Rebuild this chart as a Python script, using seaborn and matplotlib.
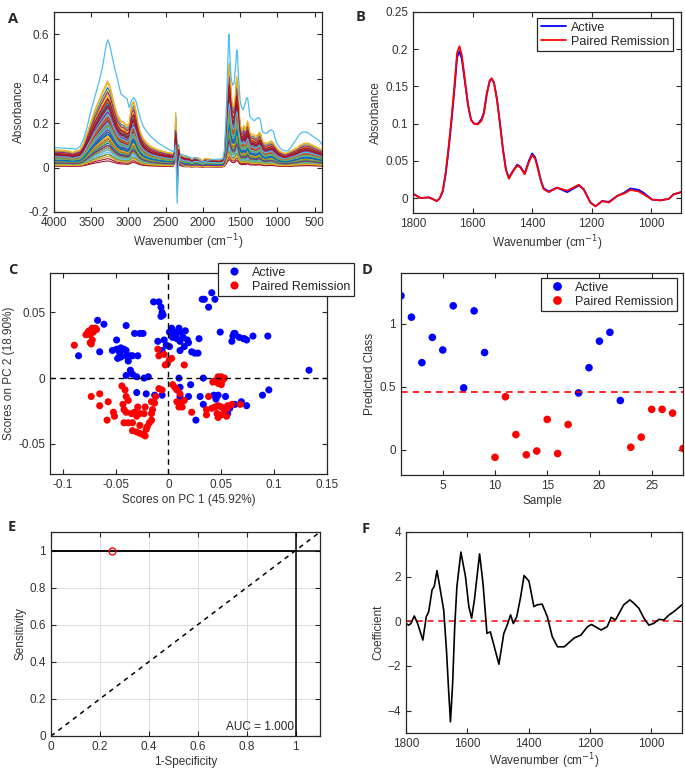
import numpy as np
import pandas as pd
import matplotlib
matplotlib.use("Agg")
import matplotlib.pyplot as plt
from matplotlib.ticker import FuncFormatter
import seaborn as sns

# ---------------- A: all spectra ----------------
wn_a = [4000, 3900, 3800, 3750, 3700, 3650, 3600, 3550, 3500, 3450,
        3400, 3350, 3300, 3280, 3250, 3200, 3150, 3100, 3060, 3020,
        2990, 2960, 2930, 2900, 2870, 2840, 2800, 2750, 2700, 2600,
        2500, 2420, 2400, 2380, 2365, 2355, 2345, 2335, 2325, 2310,
        2250, 2200, 2170, 2150, 2120, 2080, 2040, 2000, 1980, 1950,
        1900, 1850, 1800, 1760, 1730, 1710, 1690, 1670, 1655, 1645,
        1630, 1610, 1590, 1570, 1555, 1545, 1530, 1515, 1500, 1480,
        1460, 1450, 1430, 1415, 1400, 1390, 1370, 1350, 1320, 1290,
        1260, 1240, 1220, 1200, 1170, 1140, 1110, 1080, 1050, 1020,
        1000, 970, 940, 910, 880, 850, 820, 790, 760, 730,
        700, 670, 640, 610, 580, 550, 520, 490, 460, 430, 400]
# upper edge of the main bundle
top_a = [0.080, 0.078, 0.075, 0.068, 0.075, 0.080, 0.110, 0.160, 0.210, 0.260,
         0.300, 0.340, 0.375, 0.390, 0.370, 0.300, 0.240, 0.210, 0.205, 0.190,
         0.200, 0.280, 0.300, 0.260, 0.200, 0.160, 0.130, 0.110, 0.095, 0.080,
         0.070, 0.065, 0.062, 0.060, 0.060, 0.060, 0.060, 0.058, 0.056, 0.055,
         0.050, 0.048, 0.045, 0.035, 0.045, 0.045, 0.040, 0.030, 0.040, 0.040,
         0.038, 0.036, 0.035, 0.035, 0.040, 0.070, 0.180, 0.330, 0.440, 0.470,
         0.400, 0.300, 0.280, 0.300, 0.380, 0.410, 0.370, 0.270, 0.200, 0.170,
         0.180, 0.190, 0.170, 0.190, 0.210, 0.200, 0.160, 0.150, 0.150, 0.140,
         0.150, 0.160, 0.150, 0.120, 0.110, 0.110, 0.115, 0.120, 0.110, 0.095,
         0.085, 0.075, 0.070, 0.065, 0.065, 0.070, 0.075, 0.080, 0.085, 0.090,
         0.100, 0.105, 0.110, 0.110, 0.110, 0.105, 0.100, 0.095, 0.090, 0.085, 0.080]
# CO2 artefact profile
co2_profile = {2380: 0.25, 2365: 1.0, 2355: 0.7, 2345: -0.55, 2335: -0.25, 2325: 0.35, 2310: 0.08}
# per spectrum: amide A height and CO2 artefact size
sample_amp = [0.21, 0.08, 0.33, 0.15, 0.27, 0.05, 0.19, 0.36, 0.12, 0.24,
              0.10, 0.29, 0.17, 0.06, 0.22, 0.31, 0.14, 0.09, 0.26, 0.20,
              0.04, 0.18, 0.30, 0.11, 0.25, 0.13, 0.07, 0.23, 0.28, 0.16,
              0.39, 0.19, 0.12, 0.27, 0.03, 0.22, 0.10, 0.32, 0.15, 0.24,
              0.08, 0.20, 0.29, 0.13, 0.35, 0.17, 0.06, 0.26, 0.21, 0.11,
              0.30, 0.14, 0.25, 0.09, 0.18, 0.28, 0.16, 0.23, 0.05, 0.34,
              0.12, 0.20, 0.27, 0.15, 0.22, 0.38, 0.10, 0.19, 0.24, 0.31]
sample_co2 = [0.04, 0.09, 0.02, 0.13, 0.06, 0.18, 0.03, 0.10, 0.05, 0.15,
              0.03, 0.08, 0.11, 0.05, 0.20, 0.07, 0.01, 0.09, 0.14, 0.04,
              0.06, 0.11, 0.03, 0.16, 0.05, 0.08, 0.03, 0.12, 0.07, 0.02,
              0.10, 0.05, 0.17, 0.06, 0.08, 0.04, 0.13, 0.03, 0.09, 0.05,
              0.14, 0.03, 0.07, 0.11, 0.05, 0.08, 0.19, 0.02, 0.06, 0.11,
              0.04, 0.08, 0.05, 0.13, 0.03, 0.09, 0.05, 0.07, 0.24, 0.03,
              0.10, 0.06, 0.12, 0.04, 0.08, 0.05, 0.15, 0.03, 0.08, 0.10]
# the single high outlier spectrum (light blue)
out_wn = [4000, 3900, 3800, 3700, 3650, 3600, 3550, 3500, 3450, 3400,
          3350, 3300, 3280, 3250, 3200, 3150, 3100, 3060, 3020, 2990,
          2960, 2930, 2900, 2870, 2840, 2800, 2750, 2700, 2600, 2500,
          2420, 2380, 2365, 2345, 2330, 2300, 2250, 2200, 2150, 2100,
          2000, 1900, 1800, 1730, 1710, 1690, 1670, 1655, 1648, 1635,
          1620, 1600, 1580, 1560, 1545, 1535, 1520, 1500, 1480, 1460,
          1440, 1415, 1400, 1385, 1370, 1340, 1310, 1280, 1250, 1230,
          1200, 1170, 1140, 1110, 1080, 1050, 1020, 1000, 970, 940,
          900, 860, 820, 780, 740, 700, 660, 620, 580, 540, 500, 450, 400]
out_abs = [0.090, 0.088, 0.086, 0.083, 0.095, 0.130, 0.190, 0.260, 0.320, 0.380,
           0.450, 0.550, 0.575, 0.550, 0.470, 0.400, 0.330, 0.320, 0.310, 0.270,
           0.300, 0.315, 0.300, 0.260, 0.220, 0.185, 0.160, 0.140, 0.110, 0.090,
           0.075, 0.070, 0.100, -0.160, 0.010, 0.060, 0.055, 0.050, 0.040, 0.045,
           0.025, 0.035, 0.037, 0.040, 0.080, 0.220, 0.420, 0.580, 0.600, 0.480,
           0.400, 0.370, 0.380, 0.460, 0.530, 0.500, 0.400, 0.300, 0.270, 0.260,
           0.280, 0.310, 0.315, 0.280, 0.230, 0.220, 0.210, 0.220, 0.225, 0.215,
           0.160, 0.155, 0.155, 0.165, 0.170, 0.160, 0.120, 0.105, 0.090, 0.080,
           0.075, 0.075, 0.090, 0.110, 0.130, 0.150, 0.160, 0.160, 0.155, 0.145,
           0.135, 0.125, 0.105]

# ---------------- B: mean spectra ----------------
wn_b = [1800, 1775, 1747, 1735, 1720, 1710, 1700, 1690, 1680, 1670,
        1660, 1652, 1644, 1636, 1626, 1615, 1605, 1595, 1582, 1570,
        1562, 1552, 1542, 1536, 1528, 1518, 1508, 1498, 1488, 1478,
        1467, 1450, 1439, 1425, 1411, 1400, 1390, 1383, 1370, 1361,
        1344, 1316, 1282, 1243, 1227, 1204, 1187, 1165, 1142, 1114,
        1092, 1070, 1042, 1025, 997, 969, 941, 925, 900]
active_b = [0.006, 0.000, 0.001, -0.001, -0.004, 0.000, 0.009, 0.033, 0.067, 0.106,
            0.150, 0.189, 0.197, 0.187, 0.157, 0.124, 0.105, 0.100, 0.100, 0.106,
            0.115, 0.141, 0.158, 0.160, 0.155, 0.133, 0.101, 0.066, 0.039, 0.027,
            0.035, 0.045, 0.042, 0.033, 0.050, 0.060, 0.055, 0.045, 0.023, 0.013,
            0.009, 0.014, 0.008, 0.017, 0.012, -0.006, -0.011, -0.004, -0.005, 0.003,
            0.007, 0.013, 0.011, 0.007, -0.002, -0.003, -0.001, 0.005, 0.008]
remission_b = [0.006, 0.000, 0.001, -0.001, -0.004, 0.000, 0.010, 0.035, 0.070, 0.110,
               0.155, 0.195, 0.204, 0.192, 0.160, 0.125, 0.105, 0.100, 0.099, 0.104,
               0.113, 0.140, 0.158, 0.161, 0.155, 0.132, 0.100, 0.065, 0.038, 0.026,
               0.034, 0.044, 0.041, 0.032, 0.048, 0.058, 0.053, 0.043, 0.022, 0.012,
               0.008, 0.014, 0.010, 0.018, 0.012, -0.006, -0.011, -0.004, -0.006, 0.003,
               0.006, 0.011, 0.009, 0.005, -0.002, -0.003, -0.001, 0.005, 0.008]

# ---------------- C: PCA scores ----------------
active_pc1 = [-0.014, -0.009, -0.007, -0.006, -0.007, -0.005,
              0.032, 0.034, 0.041, 0.044, 0.038,
              0.049, 0.061, 0.062, 0.063, 0.060, 0.067, 0.071, 0.074, 0.080, 0.094, 0.072,
              0.133,
              -0.067, -0.061, -0.085, -0.065, -0.049, -0.040, -0.032, -0.027, -0.024,
              -0.053, -0.049, -0.045, -0.042, -0.040, -0.046, -0.048, -0.045, -0.040,
              -0.036, -0.034, -0.029, -0.038,
              -0.040, -0.036, -0.034, -0.030, -0.023, -0.019,
              0.003, 0.006, 0.010, 0.004, 0.008, 0.011, 0.016, 0.018, 0.019, 0.015,
              0.011, 0.022, 0.025, 0.028, 0.029, -0.004, -0.002, 0.001, -0.006, -0.010,
              0.001, 0.007, 0.014, 0.011,
              0.010, 0.021, 0.033, -0.030, -0.021, -0.013, -0.006, 0.011, 0.011, 0.019,
              0.030, 0.033, 0.026, 0.043, 0.047, 0.054, 0.045, 0.063, 0.069, 0.074,
              0.089, 0.095, 0.058, 0.056]
active_pc2 = [0.058, 0.058, 0.054, 0.050, 0.047, 0.048,
              0.060, 0.060, 0.065, 0.060, 0.054,
              0.035, 0.032, 0.034, 0.034, 0.028, 0.031, 0.030, 0.029, 0.032, 0.032, 0.030,
              0.006,
              0.044, 0.041, 0.017, 0.020, 0.029, 0.040, 0.034, 0.034, 0.034,
              0.021, 0.022, 0.023, 0.022, 0.021, 0.019, 0.015, 0.016, 0.017,
              0.017, 0.017, 0.017, 0.013,
              0.002, 0.006, 0.003, 0.001, 0.000, 0.001,
              0.038, 0.035, 0.038, 0.031, 0.030, 0.028, 0.036, 0.029, 0.027, 0.024,
              0.021, 0.020, 0.019, 0.019, 0.030, 0.029, 0.025, 0.024, 0.021, 0.028,
              0.035, 0.033, 0.031, 0.035,
              0.000, -0.005, 0.000, -0.011, -0.012, -0.013, -0.013, -0.007, -0.014, -0.014,
              -0.014, -0.020, -0.032, -0.013, -0.013, -0.014, -0.016, -0.020, -0.018, -0.021,
              -0.013, -0.009, -0.023, -0.027]
remission_pc1 = [-0.089, -0.078, -0.075, -0.072, -0.069, -0.068, -0.071, -0.074, -0.076,
                 -0.072, -0.073, -0.074,
                 -0.010, -0.009, -0.004, 0.001, -0.001, -0.003, 0.015, 0.003,
                 0.042, 0.044, 0.047, 0.050, 0.053, 0.051, 0.047, 0.050,
                 -0.073, -0.065, -0.065, -0.057, -0.058, -0.052, -0.051, -0.044,
                 -0.041, -0.040, -0.038, -0.043, -0.042, -0.040, -0.035, -0.032, -0.027,
                 -0.023, -0.029, -0.022, -0.030, -0.042, -0.038, -0.034, -0.027, -0.034,
                 -0.030, -0.027, -0.024, -0.022, -0.021, -0.020, -0.018, -0.016, -0.016,
                 -0.015, -0.016, -0.013, -0.006, -0.009, -0.012,
                 0.004, 0.006, 0.008, 0.011, 0.008, 0.011, 0.013, 0.010, 0.015, 0.022, 0.038,
                 0.036, 0.041, 0.044, 0.047, 0.050, 0.053, 0.056, 0.046, 0.050, 0.055,
                 0.047, 0.036, 0.056, 0.060, 0.068]
remission_pc2 = [0.025, 0.033, 0.036, 0.038, 0.038, 0.037, 0.035, 0.033, 0.035,
                 0.029, 0.026, 0.027,
                 0.022, 0.017, 0.018, 0.014, 0.011, 0.010, 0.010, 0.015,
                 -0.003, -0.002, 0.001, 0.001, 0.000, -0.002, -0.004, -0.005,
                 -0.014, -0.012, -0.021, -0.018, -0.032, -0.026, -0.029, -0.006,
                 -0.009, -0.014, -0.017, -0.020, -0.024, -0.026, -0.027, -0.026, -0.027,
                 -0.027, -0.022, -0.022, -0.029, -0.034, -0.034, -0.034, -0.036, -0.040,
                 -0.041, -0.042, -0.043, -0.044, -0.039, -0.037, -0.034, -0.032, -0.027,
                 -0.024, -0.018, -0.019, -0.009, -0.008, -0.014,
                 -0.005, -0.007, -0.009, -0.012, -0.018, -0.019, -0.022, -0.022, -0.017, -0.026, -0.014,
                 -0.024, -0.023, -0.022, -0.021, -0.022, -0.024, -0.023, -0.027, -0.028, -0.029,
                 -0.030, -0.028, -0.021, -0.020, -0.020]

# ---------------- D: predicted class ----------------
sample_d = list(range(1, 29))
pred_d = [1.22, 1.05, 0.69, 0.89, 0.79, 1.14, 0.49, 1.10, 0.77, -0.06,
          0.42, 0.12, -0.04, -0.01, 0.24, -0.03, 0.20, 0.45, 0.65, 0.86,
          0.93, 0.39, 0.02, 0.10, 0.32, 0.32, 0.29, 0.01]
class_d = (["Active"] * 9 + ["Paired Remission"] * 8 + ["Active"] * 5
           + ["Paired Remission"] * 6)
threshold_d = 0.455

# ---------------- E: ROC ----------------
roc_fpr = [0, 0, 1]
roc_tpr = [0, 1, 1]
opt_fpr, opt_tpr = 0.25, 1.0
auc_text = "AUC = 1.000"

# ---------------- F: regression coefficients ----------------
wn_f = [1800, 1791, 1784, 1773, 1762, 1745, 1734, 1726, 1715, 1708,
        1699, 1690, 1677, 1668, 1661, 1655, 1648, 1641, 1634, 1621,
        1606, 1595, 1586, 1577, 1560, 1549, 1536, 1525, 1512, 1497,
        1481, 1470, 1459, 1450, 1439, 1426, 1415, 1399, 1383, 1372,
        1356, 1339, 1323, 1306, 1284, 1251, 1230, 1208, 1195, 1164,
        1144, 1131, 1117, 1090, 1070, 1057, 1041, 1024, 1008, 992,
        975, 959, 942, 926, 900]
coef_f = [-0.10, -0.17, -0.10, 0.24, -0.10, -0.84, 0.20, 0.43, 1.41, 1.56,
          2.27, 1.56, 0.50, -1.30, -3.10, -4.50, -2.80, -0.20, 1.56, 3.10,
          2.00, 0.66, 0.14, 0.96, 3.02, 1.71, -0.54, -0.47, -1.14, -1.92,
          -0.54, -0.17, 0.29, -0.10, 0.20, 1.11, 2.05, 1.80, 0.66, 0.74,
          0.77, 0.20, -0.69, -1.14, -1.14, -0.74, -0.62, -0.24, -0.14, -0.39,
          -0.24, 0.18, 0.06, 0.74, 0.96, 0.81, 0.59, 0.14, -0.17, -0.09,
          0.09, 0.06, 0.29, 0.44, 0.74]

matlab_colors = ["#0072BD", "#D95319", "#EDB120", "#7E2F8E", "#77AC30", "#4DBEEE", "#A2142F"]
group_colors = {"Active": "#0000FF", "Paired Remission": "#FF0000"}

sns.set_style("ticks")
plt.rcParams.update({
    "font.family": ["Liberation Sans", "DejaVu Sans"],
    "font.size": 8.5,
    "axes.edgecolor": "#262626",
    "axes.linewidth": 0.9,
    "axes.labelcolor": "#333333",
    "axes.labelsize": 8.5,
    "axes.labelpad": 2.5,
    "xtick.direction": "in",
    "ytick.direction": "in",
    "xtick.top": True,
    "ytick.right": True,
    "xtick.color": "#262626",
    "ytick.color": "#262626",
    "xtick.labelcolor": "#333333",
    "ytick.labelcolor": "#333333",
    "xtick.labelsize": 8.5,
    "ytick.labelsize": 8.5,
    "xtick.major.size": 3.5,
    "ytick.major.size": 3.5,
    "xtick.major.width": 0.8,
    "ytick.major.width": 0.8,
})

W, H = 685, 772
fig = plt.figure(figsize=(W / 100, H / 100), dpi=100)


def add_ax(left, right, top, bottom):
    return fig.add_axes([left / W, 1 - bottom / H, (right - left) / W, (bottom - top) / H])


fmt = FuncFormatter(lambda v, p: "%g" % round(v, 6))
wn_label = "Wavenumber (cm$^{-1}$)"


def frame_legend(ax, anchor, ms=None):
    h, l = ax.get_legend_handles_labels()
    leg = ax.legend(h, l, loc="upper right", bbox_to_anchor=anchor, bbox_transform=fig.transFigure,
                    fancybox=False, framealpha=1, edgecolor="#262626", fontsize=9,
                    borderpad=0.3, labelspacing=0.15, handletextpad=0.4, borderaxespad=0,
                    markerscale=1.15 if ms else 1.0)
    leg.get_frame().set_linewidth(0.9)
    return leg


# ---- A ----
axA = add_ax(54, 322, 12, 212)
top_arr = np.array(top_a)
co2_arr = np.array([co2_profile.get(w, 0.0) for w in wn_a])
rows = []
for i, (amp, co2) in enumerate(zip(sample_amp, sample_co2)):
    spec = top_arr * amp / 0.39 + co2 * co2_arr
    rows.append(pd.DataFrame({"wn": wn_a, "abs": spec, "sample": "s%02d" % i}))
dfA = pd.concat(rows)
pal = [matlab_colors[i % 7] for i in range(len(sample_amp))]
sns.lineplot(data=dfA, x="wn", y="abs", hue="sample", palette=pal, legend=False,
             linewidth=0.8, ax=axA, estimator=None)
sns.lineplot(x=out_wn, y=out_abs, color=matlab_colors[5], linewidth=0.9, ax=axA, estimator=None)
axA.set_xlim(4000, 400)
axA.set_ylim(-0.2, 0.7)
axA.set_xticks([4000, 3500, 3000, 2500, 2000, 1500, 1000, 500])
axA.set_yticks([-0.2, 0, 0.2, 0.4, 0.6])
axA.yaxis.set_major_formatter(fmt)
axA.set_xlabel(wn_label)
axA.set_ylabel("Absorbance")

# ---- B ----
axB = add_ax(413, 681, 12, 213)
dfB = pd.concat([
    pd.DataFrame({"wn": wn_b, "abs": active_b, "group": "Active"}),
    pd.DataFrame({"wn": wn_b, "abs": remission_b, "group": "Paired Remission"}),
])
sns.lineplot(data=dfB, x="wn", y="abs", hue="group", palette=group_colors, linewidth=1.3,
             ax=axB, estimator=None)
axB.set_xlim(1800, 900)
axB.set_ylim(-0.02, 0.25)
axB.set_xticks([1800, 1600, 1400, 1200, 1000])
axB.set_yticks([0, 0.05, 0.1, 0.15, 0.2, 0.25])
axB.yaxis.set_major_formatter(fmt)
axB.set_xlabel(wn_label)
axB.set_ylabel("Absorbance")
frame_legend(axB, (673 / W, 1 - 18 / H))

# ---- C ----
axC = add_ax(50, 327, 273, 474)
dfC = pd.concat([
    pd.DataFrame({"pc1": active_pc1, "pc2": active_pc2, "group": "Active"}),
    pd.DataFrame({"pc1": remission_pc1, "pc2": remission_pc2, "group": "Paired Remission"}),
])
axC.axhline(0, color="black", ls=(0, (4, 3)), lw=1.0)
axC.axvline(0, color="black", ls=(0, (4, 3)), lw=1.0)
sns.scatterplot(data=dfC, x="pc1", y="pc2", hue="group", palette=group_colors, s=26,
                linewidth=0, ax=axC)
axC.set_xlim(-0.112, 0.15)
axC.set_ylim(-0.073, 0.08)
axC.set_xticks([-0.1, -0.05, 0, 0.05, 0.1, 0.15])
axC.set_yticks([-0.05, 0, 0.05])
axC.xaxis.set_major_formatter(fmt)
axC.yaxis.set_major_formatter(fmt)
axC.set_xlabel("Scores on PC 1 (45.92%)")
axC.set_ylabel("Scores on PC 2 (18.90%)")
frame_legend(axC, (354 / W, 1 - 263 / H), ms=True)

# ---- D ----
axD = add_ax(401, 683, 273, 475)
dfD = pd.DataFrame({"sample": sample_d, "pred": pred_d, "group": class_d})
axD.axhline(threshold_d, color="#FF0000", ls=(0, (4, 3)), lw=1.2)
sns.scatterplot(data=dfD, x="sample", y="pred", hue="group", palette=group_colors, s=30,
                linewidth=0, ax=axD)
axD.set_xlim(1, 28)
axD.set_ylim(-0.2, 1.4)
axD.set_xticks([5, 10, 15, 20, 25])
axD.set_yticks([0, 0.5, 1])
axD.yaxis.set_major_formatter(fmt)
axD.set_xlabel("Sample")
axD.set_ylabel("Predicted Class")
frame_legend(axD, (677 / W, 1 - 278 / H), ms=True)

# ---- E ----
axE = add_ax(51, 320, 532, 736)
axE.grid(True, color="#DCDCDC", lw=0.7)
axE.set_axisbelow(True)
axE.axline((0, 0), slope=1, color="black", ls=(0, (3, 3)), lw=1.1)
axE.axhline(1, color="black", lw=1.1)
axE.axvline(1, color="black", lw=1.1)
sns.lineplot(x=roc_fpr, y=roc_tpr, color="black", lw=1.1, ax=axE, estimator=None, sort=False)
axE.plot([opt_fpr], [opt_tpr], marker="o", ms=5, mfc="none", mec="#FF0000", mew=1.0, ls="none")
axE.text(0.993, 0.015, auc_text, ha="right", va="bottom", fontsize=8.5, color="#262626")
axE.set_xlim(0, 1.1)
axE.set_ylim(0, 1.1)
axE.set_xticks([0, 0.2, 0.4, 0.6, 0.8, 1])
axE.set_yticks([0, 0.2, 0.4, 0.6, 0.8, 1])
axE.xaxis.set_major_formatter(fmt)
axE.yaxis.set_major_formatter(fmt)
axE.set_xlabel("1-Specificity")
axE.set_ylabel("Sensitivity")

# ---- F ----
axF = add_ax(406, 682, 532, 733)
axF.axhline(0, color="#FF0000", ls=(0, (4, 3)), lw=1.1)
sns.lineplot(x=wn_f, y=coef_f, color="black", lw=1.2, ax=axF, estimator=None)
axF.set_xlim(1800, 900)
axF.set_ylim(-5, 4)
axF.set_xticks([1800, 1600, 1400, 1200, 1000])
axF.set_yticks([-4, -2, 0, 2, 4])
axF.set_xlabel(wn_label, labelpad=1)
axF.set_ylabel("Coefficient")

for lab, x, y in [("A", 8, 12), ("B", 356, 10), ("C", 8, 263), ("D", 362, 263),
                  ("E", 8, 520), ("F", 362, 522)]:
    fig.text(x / W, 1 - y / H, lab, fontsize=10.5, fontweight="bold",
             family=["Open Sans", "DejaVu Sans"], va="top", ha="left")

fig.savefig("out.png", dpi=100)
